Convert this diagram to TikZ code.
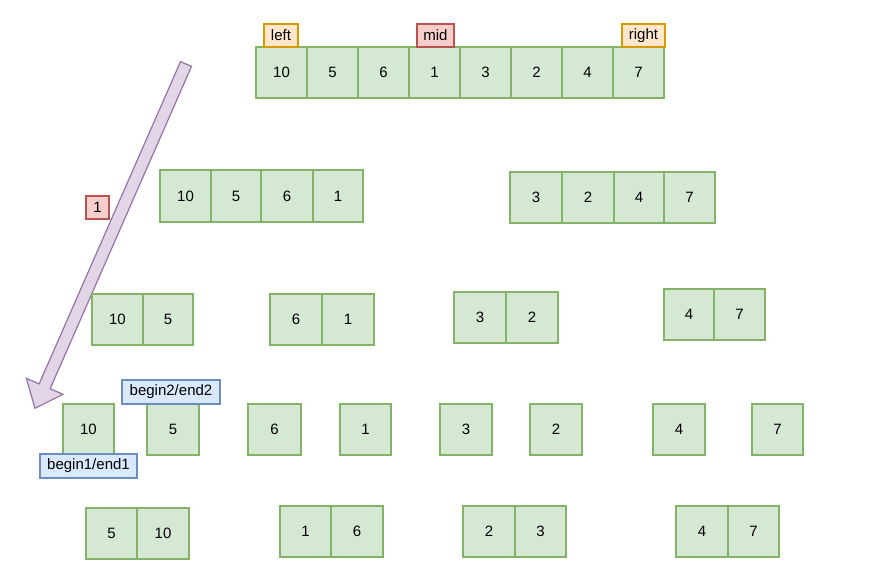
\documentclass[tikz,border=0pt]{standalone}
\usepackage{fontspec}
\setmainfont{Liberation Sans}
\definecolor{gfill}{HTML}{D5E8D4}
\definecolor{gline}{HTML}{82B366}
\definecolor{ofill}{HTML}{FFE6CC}
\definecolor{oline}{HTML}{D79B00}
\definecolor{rfill}{HTML}{F8CECC}
\definecolor{rline}{HTML}{B85450}
\definecolor{bfill}{HTML}{DAE8FC}
\definecolor{bline}{HTML}{6C8EBF}
\definecolor{pfill}{HTML}{E1D5E7}
\definecolor{pline}{HTML}{9673A6}
\tikzset{
  cell/.style={draw=gline, fill=gfill, line width=1.3pt, inner sep=0pt, outer sep=0pt,
    font=\fontsize{15}{18}\selectfont, text=black},
  orangelabel/.style={cell, draw=oline, fill=ofill},
  redlabel/.style={cell, draw=rline, fill=rfill},
  bluelabel/.style={cell, draw=bline, fill=bfill},
  bigarrow/.style={draw=pline, fill=pfill, line width=1.2pt, line join=miter}
}
\newcommand\boxat[7][cell]{%
  \node[#1, minimum width={#5-#3}, minimum height={#6-#4}] (#2) at ({(#3+#5)/2},{(#4+#6)/2}) {#7};}
\begin{document}
\begin{tikzpicture}[x=1pt,y=-1pt]
\useasboundingbox (0,0) rectangle (874,582);
% big arrow
\coordinate (s1) at (191.5,66.4);
\coordinate (s2) at (180.5,61.6);
\coordinate (b1) at (50.15,388.7);
\coordinate (b2) at (39.15,383.9);
\coordinate (h1) at (62.97,394.3);
\coordinate (h2) at (26.33,378.3);
\coordinate (tip) at (35,408.3);
\draw[bigarrow] (s1) -- (b1) -- (h1) -- (tip) -- (h2) -- (b2) -- (s2) -- cycle;
% row 1
\boxat{a1}{256}{47}{307}{98}{10}
\boxat{a2}{307}{47}{358}{98}{5}
\boxat{a3}{358}{47}{409}{98}{6}
\boxat{a4}{409}{47}{460}{98}{1}
\boxat{a5}{460}{47}{511}{98}{3}
\boxat{a6}{511}{47}{562}{98}{2}
\boxat{a7}{562}{47}{613}{98}{4}
\boxat{a8}{613}{47}{664}{98}{7}
% row 2
\boxat{b1n}{160}{170}{211}{222}{10}
\boxat{b2n}{211}{170}{261}{222}{5}
\boxat{b3n}{261}{170}{313}{222}{6}
\boxat{b4n}{313}{170}{363}{222}{1}
\boxat{b5n}{510}{172}{562}{223}{3}
\boxat{b6n}{562}{172}{614}{223}{2}
\boxat{b7n}{614}{172}{664}{223}{4}
\boxat{b8n}{664}{172}{715}{223}{7}
% row 3
\boxat{c1}{92}{294}{143}{345}{10}
\boxat{c2}{143}{294}{193}{345}{5}
\boxat{c3}{270}{294}{322}{345}{6}
\boxat{c4}{322}{294}{374}{345}{1}
\boxat{c5}{454}{292}{506}{343}{3}
\boxat{c6}{506}{292}{558}{343}{2}
\boxat{c7}{664}{289}{714}{340}{4}
\boxat{c8}{714}{289}{765}{340}{7}
% row 4
\boxat{d1}{63}{404}{114}{455}{10}
\boxat{d2}{147}{404}{199}{455}{5}
\boxat{d3}{248}{404}{301}{455}{6}
\boxat{d4}{340}{404}{391}{455}{1}
\boxat{d5}{440}{404}{492}{455}{3}
\boxat{d6}{530}{404}{582}{455}{2}
\boxat{d7}{653}{404}{705}{455}{4}
\boxat{d8}{752}{404}{803}{455}{7}
% row 5
\boxat{e1}{86}{508}{137}{559}{5}
\boxat{e2}{137}{508}{189}{559}{10}
\boxat{e3}{280}{506}{331}{557}{1}
\boxat{e4}{331}{506}{383}{557}{6}
\boxat{e5}{463}{506}{515}{557}{2}
\boxat{e6}{515}{506}{566}{557}{3}
\boxat{e7}{676}{506}{728}{557}{4}
\boxat{e8}{728}{506}{779}{557}{7}
% labels
\boxat[orangelabel]{lleft}{264}{24}{298}{47}{left}
\boxat[redlabel]{lmid}{417}{24}{454}{47}{mid}
\boxat[orangelabel]{lright}{622}{24}{665}{47}{right}
\boxat[redlabel]{lone}{86}{196}{109}{219}{1}
\boxat[bluelabel]{lbe2}{122}{380}{220}{404}{begin2/end2}
\boxat[bluelabel]{lbe1}{40}{454}{137}{478}{begin1/end1}
\end{tikzpicture}
\end{document}
